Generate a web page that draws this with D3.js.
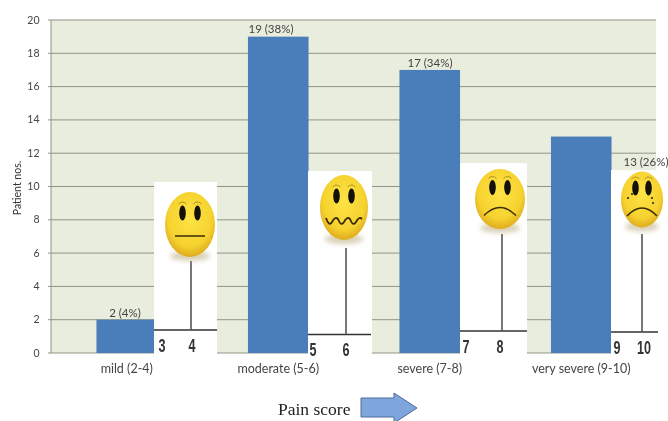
<!DOCTYPE html>
<html>
<head>
<meta charset="utf-8">
<script src="https://cdn.jsdelivr.net/npm/d3@7"></script>
<style>
html,body{margin:0;padding:0;background:#fff}
svg{display:block;filter:blur(0.35px)}
</style>
</head>
<body>
<svg id="chart" width="668" height="421"></svg>
<script>
// Patient counts per pain category
const categories = ["mild (2-4)", "moderate (5-6)", "severe (7-8)", "very severe (9-10)"];
const patients = [2, 19, 17, 13];
const valueLabels = ["2 (4%)", "19 (38%)", "17 (34%)", "13 (26%)"];
const yTicks = [0, 2, 4, 6, 8, 10, 12, 14, 16, 18, 20];
// Pain-scale numbers printed beneath each face
const scaleLow = ["3", "5", "7", "9"];
const scaleHigh = ["4", "6", "8", "10"];
const moods = ["flat", "wavy", "sad", "cry"];

const svg = d3.select("#chart");
const plotLeft = 51, plotRight = 656, plotTop = 20, plotBottom = 353;
const labelFont = "Lato, sans-serif";

const x = d3.scaleBand().domain(categories).range([plotLeft, 657]).paddingInner(0.6).paddingOuter(0.3);
const y = d3.scaleLinear().domain([0, 20]).range([plotBottom, plotTop]);

const defs = svg.append("defs");
const grad = defs.append("radialGradient").attr("id", "faceFill")
  .attr("cx", "50%").attr("cy", "40%").attr("r", "62%");
grad.append("stop").attr("offset", "0%").attr("stop-color", "#fde445");
grad.append("stop").attr("offset", "70%").attr("stop-color", "#f6d22f");
grad.append("stop").attr("offset", "100%").attr("stop-color", "#dca71c");
const shadow = defs.append("filter").attr("id", "soft").attr("x", "-40%").attr("y", "-40%").attr("width", "180%").attr("height", "180%");
shadow.append("feGaussianBlur").attr("stdDeviation", 2.5);

// Plot background and gridlines
svg.append("rect").attr("x", plotLeft).attr("y", plotTop).attr("width", plotRight - plotLeft).attr("height", plotBottom - plotTop).attr("fill", "#e9eddd");
svg.append("g").selectAll("line").data(yTicks).join("line")
  .attr("x1", plotLeft - 3).attr("x2", plotRight)
  .attr("y1", d => y(d)).attr("y2", d => y(d))
  .attr("stroke", "#8f9486").attr("stroke-width", 1);
svg.append("line").attr("x1", plotLeft).attr("x2", plotLeft).attr("y1", plotTop).attr("y2", plotBottom).attr("stroke", "#8f9486");

// Y axis numbers
svg.append("g").selectAll("text").data(yTicks).join("text")
  .attr("x", 39.5).attr("y", d => y(d) + 3.5).attr("text-anchor", "end")
  .attr("font-family", labelFont).attr("font-size", 10.5).attr("fill", "#444").text(d => d);
svg.append("text").attr("transform", "translate(21,188) rotate(-90)").attr("text-anchor", "middle")
  .attr("font-family", labelFont).attr("font-size", 10.5).attr("fill", "#333").text("Patient nos.");

// Bars
svg.append("g").selectAll("rect").data(categories).join("rect")
  .attr("x", d => x(d)).attr("width", x.bandwidth())
  .attr("y", (d, i) => y(patients[i])).attr("height", (d, i) => plotBottom - y(patients[i]))
  .attr("fill", "#4a7ebb");

// Category names
svg.append("g").selectAll("text").data(categories).join("text")
  .attr("x", d => x(d) + x.bandwidth() / 2).attr("y", 373).attr("text-anchor", "middle")
  .attr("font-family", labelFont).attr("font-size", 12.5).attr("fill", "#444").text(d => d);

// Face panels layered over the plot, one per category
const panels = [
  {x: 154, w: 63, top: 182, axis: 330, cx: 190, cy: 224.5, stem: 261, rx: 25, ry: 32.5, eye: 7.5, axisEnd: 217},
  {x: 308, w: 64, top: 171, axis: 334.5, cx: 344, cy: 207.5, stem: 248, rx: 24, ry: 32.5, eye: 7.5, axisEnd: 371},
  {x: 460, w: 67, top: 163, axis: 331, cx: 500, cy: 199, stem: 234, rx: 25, ry: 30, eye: 7.5, axisEnd: 527},
  {x: 611, w: 57, top: 170, axis: 332, cx: 642, cy: 199.5, stem: 234, rx: 21, ry: 28, eye: 6.5, axisEnd: 658}
];
const stemX = [191, 346, 502, 642];
const lowX = [162, 313, 466, 617];
const highX = [192, 346, 500, 644];

const faces = svg.append("g").selectAll("g").data(panels).join("g");
faces.append("rect").attr("x", d => d.x).attr("y", d => d.top).attr("width", d => d.w)
  .attr("height", d => plotBottom + 1 - d.top).attr("fill", "#fff");
faces.append("line").attr("x1", d => d.x).attr("x2", d => d.axisEnd)
  .attr("y1", d => d.axis).attr("y2", d => d.axis).attr("stroke", "#333").attr("stroke-width", 1.6);
faces.append("line").attr("x1", (d, i) => stemX[i]).attr("x2", (d, i) => stemX[i])
  .attr("y1", d => d.stem).attr("y2", d => d.axis).attr("stroke", "#555").attr("stroke-width", 1.6);
faces.append("ellipse").attr("cx", d => d.cx).attr("cy", d => d.cy + d.ry - 1)
  .attr("rx", d => d.rx * 0.8).attr("ry", 5).attr("fill", "#b9a878").attr("opacity", 0.55).attr("filter", "url(#soft)");
faces.append("ellipse").attr("cx", d => d.cx).attr("cy", d => d.cy)
  .attr("rx", d => d.rx).attr("ry", d => d.ry).attr("fill", "url(#faceFill)");
faces.each(function (d, i) {
  const g = d3.select(this), cx = d.cx, eyeY = d.cy - 11.5;
  [-1, 1].forEach(s => {
    g.append("ellipse").attr("cx", cx + s * d.eye).attr("cy", eyeY).attr("rx", 3.3).attr("ry", 7.5).attr("fill", "#14110a");
    g.append("path").attr("fill", "none").attr("stroke", "#8a7420").attr("stroke-width", 0.7)
      .attr("d", `M${cx + s * d.eye - 4},${eyeY - 9} Q${cx + s * d.eye},${eyeY - 13} ${cx + s * d.eye + 4},${eyeY - 9}`);
  });
  const mouth = moods[i];
  const my = d.cy + (mouth === "wavy" ? 13.5 : 11.5);
  const path = d3.path();
  if (mouth === "flat") { path.moveTo(cx - 15, my); path.lineTo(cx + 15, my); }
  if (mouth === "wavy") {
    path.moveTo(cx - 18, my - 3);
    [-12, -6, 0, 6, 12, 18].forEach((dx, k) => path.quadraticCurveTo(cx + dx - 3, my + (k % 2 ? -5 : 6), cx + dx, my + (k % 2 ? -2 : 1)));
  }
  if (mouth === "sad" || mouth === "cry") {
    const w = mouth === "sad" ? 16 : 15;
    path.moveTo(cx - w, my + 5); path.quadraticCurveTo(cx, my - 11, cx + w, my + 5);
  }
  g.append("path").attr("d", path.toString()).attr("fill", "none").attr("stroke", "#3a2c08")
    .attr("stroke-width", mouth === "wavy" ? 1.8 : 1.5);
  if (mouth === "cry") {
    [[-14, 10], [-10, 6], [10, 10], [11, 15]].forEach(p => g.append("circle").attr("cx", cx + p[0]).attr("cy", eyeY + p[1]).attr("r", 1.1).attr("fill", "#3a2c08"));
  }
  // Scale digits are narrow and tall, so they are compressed horizontally
  [[lowX[i], scaleLow[i]], [highX[i], scaleHigh[i]]].forEach(([tx, label]) => {
    g.append("text").attr("transform", `translate(${tx},${d.axis + 21.5}) scale(0.72,1)`).attr("text-anchor", "middle")
      .attr("font-family", "Liberation Sans, sans-serif").attr("font-size", 17.5).attr("font-weight", 700).attr("fill", "#333").text(label);
  });
});

// Value labels sit just above their bars; the last one beside its bar, clear of the face
const labelX = [125, 271, 430, 646];
const labelLift = [3, 4, 3, -29];
svg.append("g").selectAll("text").data(valueLabels).join("text")
  .attr("x", (d, i) => labelX[i]).attr("y", (d, i) => y(patients[i]) - labelLift[i]).attr("text-anchor", "middle")
  .attr("font-family", labelFont).attr("font-size", 11.5).attr("fill", "#444").text(d => d);

// Horizontal axis caption and direction arrow
svg.append("text").attr("x", 278).attr("y", 415).attr("font-family", "Liberation Serif, serif")
  .attr("font-size", 17.5).attr("fill", "#222").text("Pain score");
svg.append("path").attr("d", "M361,398 H394 V393 L417,408 L394,423 V417 H361 Z")
  .attr("fill", "#7ea6dc").attr("stroke", "#4a6c9c").attr("stroke-width", 1);
</script>
</body>
</html>
